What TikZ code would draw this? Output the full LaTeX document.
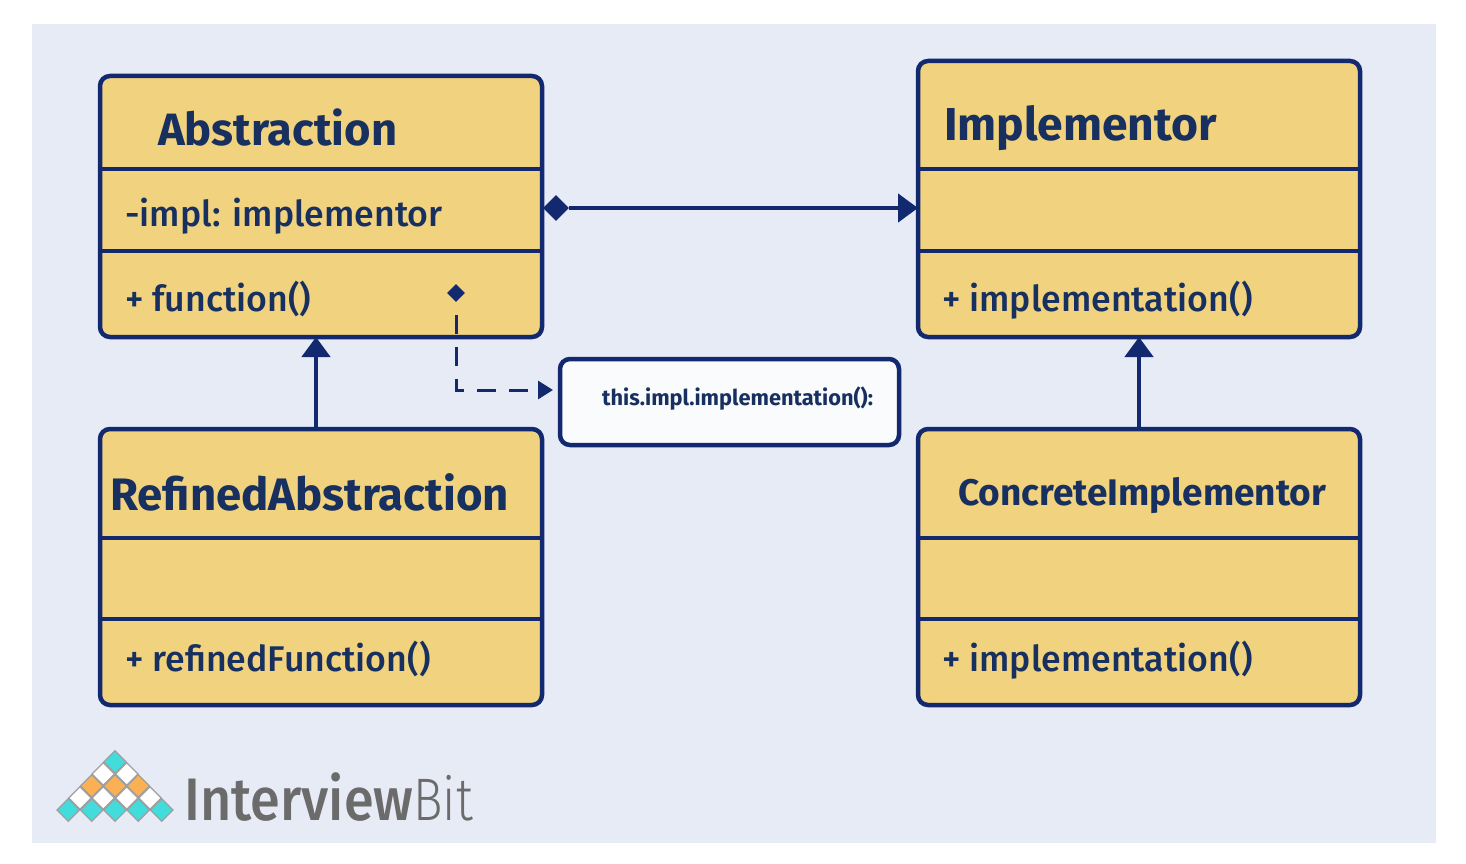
\documentclass[tikz,border=0pt]{standalone}
\usepackage{fontspec}
\setmainfont{Fira Sans}
\newfontfamily\medfont{Fira Sans Medium}
\newfontfamily\logomed[FakeStretch=0.9]{Fira Sans Medium}
\newfontfamily\logolight[FakeStretch=0.82]{Fira Sans Light}
\usetikzlibrary{arrows.meta,shapes.geometric}
\definecolor{navy}{HTML}{12296F}
\definecolor{ink}{HTML}{17305F}
\definecolor{boxfill}{HTML}{F1D27F}
\definecolor{bgblue}{HTML}{E7EBF6}
\definecolor{notefill}{HTML}{F9FBFD}
\definecolor{teal}{HTML}{42DCDC}
\definecolor{orangelogo}{HTML}{FBB153}
\definecolor{greylogo}{HTML}{6B6B6B}
\tikzset{
  x=1pt,y=-1pt,
  umlbox/.style={draw=navy,line width=4.5pt,fill=boxfill,rounded corners=10pt,anchor=north west,inner sep=0pt,outer sep=0pt,minimum width=#1},
  sep/.style={draw=navy,line width=4.5pt},
  titletext/.style={anchor=base west,inner sep=0pt,font=\bfseries\fontsize{#1}{#1}\selectfont,text=ink},
  membertext/.style={anchor=base west,inner sep=0pt,font=\medfont\fontsize{35.7}{36}\selectfont,text=ink},
  conn/.style={draw=navy,line width=4.5pt},
  tiphead/.style={-{Triangle[length=20pt,width=28pt]}},
  bigdia/.style={diamond,fill=navy,inner sep=0pt,minimum width=26pt,minimum height=26pt},
  smalldia/.style={diamond,fill=navy,inner sep=0pt,minimum width=18pt,minimum height=18pt},
  logotile/.style={diamond,draw=gray!75,line width=1.2pt,inner sep=0pt,minimum width=23pt,minimum height=23pt,fill=#1},
}
\begin{document}
\begin{tikzpicture}
\useasboundingbox (0,0) rectangle (1466,864);
\fill[white] (0,0) rectangle (1466,864);
\fill[bgblue] (32,24) rectangle (1436,843);

% boxes
\node[umlbox=442pt,minimum height=261pt] (abs) at (100,76) {};
\node[umlbox=442pt,minimum height=276pt] (imp) at (918,61) {};
\node[umlbox=442pt,minimum height=276pt] (ref) at (100,429) {};
\node[umlbox=442pt,minimum height=276pt] (con) at (918,429) {};
\node[draw=navy,line width=4.5pt,fill=notefill,rounded corners=10pt,anchor=north west,inner sep=0pt,outer sep=0pt,minimum width=339pt,minimum height=86pt] (note) at (560,359) {};

% compartment rules
\draw[sep] (abs.west |- 0,169) -- (abs.east |- 0,169);
\draw[sep] (abs.west |- 0,251) -- (abs.east |- 0,251);
\draw[sep] (imp.west |- 0,169) -- (imp.east |- 0,169);
\draw[sep] (imp.west |- 0,251) -- (imp.east |- 0,251);
\draw[sep] (ref.west |- 0,538) -- (ref.east |- 0,538);
\draw[sep] (ref.west |- 0,619) -- (ref.east |- 0,619);
\draw[sep] (con.west |- 0,538) -- (con.east |- 0,538);
\draw[sep] (con.west |- 0,619) -- (con.east |- 0,619);

% texts
\node[titletext=45.3] (t1) at (158,145) {Abstraction};
\node[titletext=46.2] (t2) at (944,140) {Implementor};
\node[titletext=45.5] (t3) at (110,510) {RefinedAbstraction};
\node[titletext=37] (t4) at (958,505) {ConcreteImplementor};
\node[membertext] (m1) at (125,226) {-impl: implementor};
\node[membertext] (m2) at (125,311) {+ function()};
\node[membertext] (m3) at (942,311) {+ implementation()};
\node[membertext] (m4) at (125,671) {+ refinedFunction()};
\node[membertext] (m5) at (942,671) {+ implementation()};
\node[anchor=base west,inner sep=0pt,font=\bfseries\fontsize{21.8}{22}\selectfont,text=ink] (nt) at (602,405) {this.impl.implementation():};

% connectors
\node[bigdia] (d1) at (556,208) {};
\draw[conn,tiphead] (d1) -- (imp.west |- d1);
\draw[conn,tiphead] (ref.north -| 316,0) -- (abs.south -| 316,0);
\draw[conn,tiphead] (con.north -| 1139,0) -- (imp.south -| 1139,0);
\node[smalldia] (d2) at (456,293) {};
\coordinate (dstart) at (456,315);
\coordinate (dbend) at (456,390);
\coordinate (dend) at (553,390);
\draw[draw=navy,line width=3pt,dash pattern=on 19pt off 13pt,-{Triangle[length=15pt,width=18pt]}] (dstart) -- (dbend) -- (dend);

% logo
\foreach \px/\py/\c in {115/762/teal,
  103.3/774/white,126.7/774/white,
  91.7/786/orangelogo,115/786/orangelogo,138.3/786/orangelogo,
  80/798/white,103.3/798/white,126.7/798/white,150/798/white,
  68.3/810/teal,91.7/810/teal,115/810/teal,138.3/810/teal,161.7/810/teal}
  \node[logotile=\c] (tile\px\py) at (\px,\py) {};
\node[anchor=base west,inner sep=0pt,text=greylogo,font=\fontsize{60}{60}\selectfont] (logo) at (184,820) {\logomed Interview\logolight Bit};
\end{tikzpicture}
\end{document}
